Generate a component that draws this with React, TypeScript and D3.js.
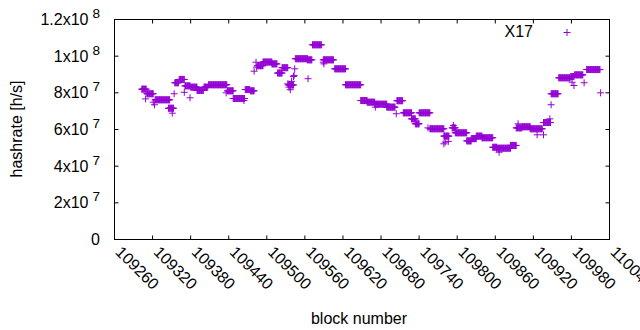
import React from 'react';
import * as d3 from 'd3';

// Runs of consecutive blocks that share the same hashrate estimate (value in units of 1e7 h/s)
const runStart = [109303, 109311, 109324, 109345, 109355, 109362, 109371, 109380, 109390, 109401, 109408, 109438, 109447, 109466, 109474, 109485, 109494, 109508, 109517, 109524, 109534, 109545, 109564, 109572, 109589, 109607, 109624, 109648, 109658, 109670, 109689, 109705, 109715, 109728, 109734, 109740, 109757, 109779, 109792, 109797, 109815, 109822, 109830, 109839, 109856, 109862, 109884, 109893, 109902, 109915, 109936, 109948, 109960, 109979, 109985, 110004];
const runEnd = [109310, 109321, 109347, 109353, 109361, 109370, 109379, 109390, 109400, 109407, 109437, 109447, 109465, 109473, 109480, 109494, 109508, 109516, 109524, 109533, 109542, 109564, 109571, 109586, 109605, 109624, 109648, 109658, 109670, 109689, 109702, 109714, 109728, 109734, 109740, 109757, 109779, 109787, 109797, 109815, 109822, 109830, 109839, 109856, 109862, 109884, 109893, 109902, 109915, 109934, 109947, 109959, 109978, 109984, 109998, 110025];
const runValue = [8.2, 7.95, 7.62, 7.16, 8.55, 8.73, 8.38, 8.31, 8.13, 8.31, 8.44, 8.11, 7.69, 8.18, 8.11, 9.48, 9.68, 9.58, 9.08, 9.37, 8.43, 9.86, 9.8, 10.62, 9.8, 9.31, 8.44, 7.58, 7.49, 7.38, 7.22, 7.57, 6.91, 6.58, 6.31, 6.91, 6.04, 5.64, 6.09, 5.82, 5.38, 5.5, 5.64, 5.55, 5.03, 4.98, 5.13, 6.09, 6.15, 6.04, 6.38, 7.95, 8.82, 8.89, 8.98, 9.27];

// Isolated blocks (value in units of 1e7 h/s)
const pointBlock = [109309, 109321, 109323, 109351, 109354, 109370, 109379, 109436, 109464, 109480, 109483, 109484, 109533, 109535, 109537, 109539, 109542, 109543, 109544, 109565, 109589, 109590, 109671, 109704, 109754, 109779, 109781, 109786, 109794, 109866, 109896, 109926, 109936, 109946, 109948, 109981, 109984, 110000, 110026];
const pointValue = [7.67, 7.49, 7.35, 6.89, 7.95, 8.03, 7.73, 8.0, 7.58, 9.18, 9.67, 9.4, 8.49, 8.31, 8.17, 8.63, 8.89, 8.95, 9.31, 8.77, 9.67, 9.58, 7.22, 6.86, 6.09, 5.22, 5.31, 5.35, 6.22, 4.76, 6.31, 5.71, 5.71, 6.58, 7.35, 8.58, 8.4, 8.55, 8.0];

const xTickValues = [109260, 109320, 109380, 109440, 109500, 109560, 109620, 109680, 109740, 109800, 109860, 109920, 109980, 110040];
const xTickLabels = ['109260', '109320', '109380', '109440', '109500', '109560', '109620', '109680', '109740', '109800', '109860', '109920', '109980', '110040'];
const yTickValues = [0, 2e7, 4e7, 6e7, 8e7, 1e8, 1.2e8];
const yTickMantissa = ['0', '2', '4', '6', '8', '1', '1.2'];
const yTickExponent = ['', '7', '7', '7', '7', '8', '8'];

const seriesName = 'X17';
const COLOR = '#9400d3';
const FONT = "'Liberation Sans', Arial, sans-serif";
const FS = 16;

const W = 640, H = 330;
const L = 114.5, R = 609.5, T = 19.5, B = 239.5;

export default function App() {
  const x = d3.scaleLinear().domain([109260, 110040]).range([L, R]);
  const y = d3.scaleLinear().domain([0, 1.2e8]).range([B, T]);

  const pts: [number, number][] = [];
  runStart.forEach((s, i) => {
    for (let b = s; b <= runEnd[i]; b++) pts.push([b, runValue[i] * 1e7]);
  });
  pointBlock.forEach((b, i) => pts.push([b, pointValue[i] * 1e7]));

  const a = 3.5;
  const markerPath = pts
    .map(([b, v]) => {
      const px = x(b), py = y(v);
      return `M${px - a},${py}h${2 * a}M${px},${py - a}v${2 * a}`;
    })
    .join('');

  const tickLen = 4;

  return (
    <svg width={W} height={H} style={{ position: 'absolute', left: 0, top: 0, background: '#fff' }} fontFamily={FONT} fontSize={FS}>
      <rect x={0} y={0} width={W} height={H} fill="#fff" />
      {/* ticks */}
      <g stroke="#000" strokeWidth={1}>
        {xTickValues.map((v, i) => (
          <g key={'xt' + i}>
            <line x1={x(v)} x2={x(v)} y1={B} y2={B - tickLen} />
            <line x1={x(v)} x2={x(v)} y1={T} y2={T + tickLen} />
          </g>
        ))}
        {yTickValues.map((v, i) => (
          <g key={'yt' + i}>
            <line x1={L} x2={L + tickLen} y1={y(v)} y2={y(v)} />
            <line x1={R} x2={R - tickLen} y1={y(v)} y2={y(v)} />
          </g>
        ))}
      </g>
      {/* data */}
      <path d={markerPath} stroke={COLOR} strokeWidth={1} fill="none" />
      {/* border */}
      <rect x={L} y={T} width={R - L} height={B - T} fill="none" stroke="#000" strokeWidth={1} />
      {/* y tick labels */}
      {yTickValues.map((v, i) => (
        <text key={'yl' + i} x={100} y={y(v) + 5.5} textAnchor="end" fill="#000">
          {yTickExponent[i] ? yTickMantissa[i] + 'x10' : yTickMantissa[i]}
          {yTickExponent[i] ? (
            <tspan dx={4} dy={-7} fontSize={FS * 0.85}>{yTickExponent[i]}</tspan>
          ) : null}
        </text>
      ))}
      {/* x tick labels */}
      {xTickValues.map((v, i) => (
        <text key={'xl' + i} transform={`translate(${x(v) + 4},${249}) rotate(45)`} textAnchor="start" dominantBaseline="central" fill="#000">
          {xTickLabels[i]}
        </text>
      ))}
      {/* axis titles */}
      <text x={359} y={324} textAnchor="middle" fill="#000">block number</text>
      <text transform={`translate(22,129) rotate(-90)`} textAnchor="middle" fill="#000">hashrate [h/s]</text>
      {/* legend */}
      <text x={533} y={37} textAnchor="end" fill="#000">{seriesName}</text>
      <path d={`M${567 - a},32.5h${2 * a}M567,${32.5 - a}v${2 * a}`} stroke={COLOR} strokeWidth={1} fill="none" />
    </svg>
  );
}
